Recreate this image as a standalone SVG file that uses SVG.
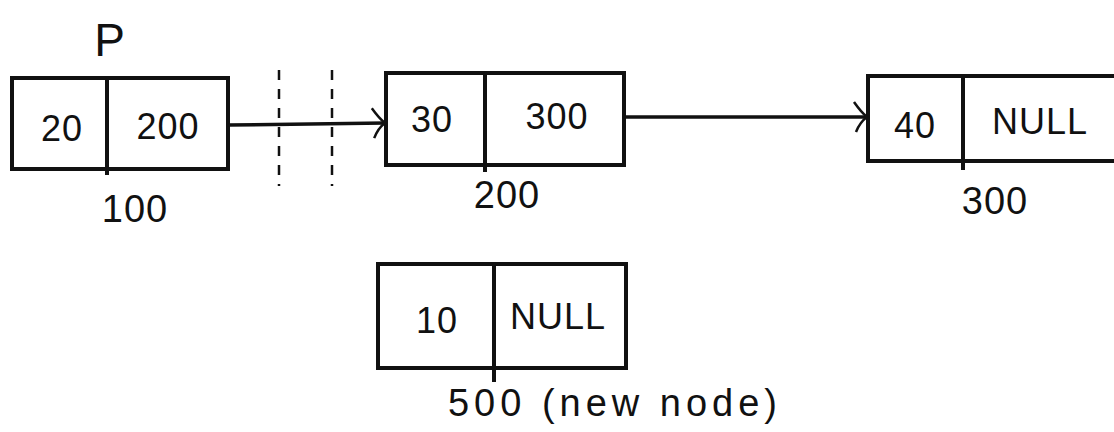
<svg xmlns="http://www.w3.org/2000/svg" width="1114" height="432" viewBox="0 0 1114 432">
<style>
.box{fill:none;stroke:#111;stroke-width:4}
.div{stroke:#111;stroke-width:4}
.t{font-family:"Liberation Sans",Arial,sans-serif;font-size:36px;fill:#111;text-anchor:middle;letter-spacing:1px}
.lbl{font-family:"Liberation Sans",Arial,sans-serif;font-size:38px;fill:#111;text-anchor:middle;letter-spacing:1px}
.conn{stroke:#111;stroke-width:3.5;fill:none}
.dash{stroke:#111;stroke-width:2.5;stroke-dasharray:10 9;fill:none}
</style>
<defs>
<marker id="ah" markerWidth="18" markerHeight="34" refX="16" refY="17" orient="auto" markerUnits="userSpaceOnUse">
<path d="M3,2 Q10,12 16,17 Q9,22 5,32" fill="none" stroke="#111" stroke-width="2.5"/>
</marker>
</defs>
<rect width="1114" height="432" fill="#fff"/>
<g id="node100">
<rect class="box" x="12" y="78" width="216" height="91"/>
<line class="div" x1="107" y1="78" x2="107" y2="175"/>
<text class="t" x="62" y="141">20</text>
<text class="t" x="168" y="139">200</text>
<text class="lbl" x="110" y="56" style="font-size:46px">P</text>
<text class="lbl" x="135" y="222">100</text>
</g>
<g id="node200">
<rect class="box" x="386" y="73" width="238" height="92"/>
<line class="div" x1="485" y1="73" x2="485" y2="172"/>
<text class="t" x="432" y="132">30</text>
<text class="t" x="557" y="129">300</text>
<text class="lbl" x="507" y="208">200</text>
</g>
<g id="node300">
<rect class="box" x="868" y="76" width="250" height="85"/>
<line class="div" x1="963" y1="76" x2="963" y2="170"/>
<text class="t" x="915" y="138">40</text>
<text class="t" x="1040" y="134">NULL</text>
<text class="lbl" x="995" y="214">300</text>
</g>
<g id="node500">
<rect class="box" x="378" y="264" width="248" height="104"/>
<line class="div" x1="494" y1="264" x2="494" y2="382"/>
<text class="t" x="437" y="333">10</text>
<text class="t" x="558" y="329">NULL</text>
<text class="lbl" x="615" y="416" style="letter-spacing:5px">500 (new node)</text>
</g>
<g id="connectors">
<line class="conn" x1="228" y1="125" x2="385" y2="123" marker-end="url(#ah)"/>
<line class="conn" x1="624" y1="117" x2="867" y2="117" marker-end="url(#ah)"/>
<line class="dash" x1="279" y1="70" x2="279" y2="186"/>
<line class="dash" x1="332" y1="70" x2="332" y2="186"/>
</g>
</svg>
